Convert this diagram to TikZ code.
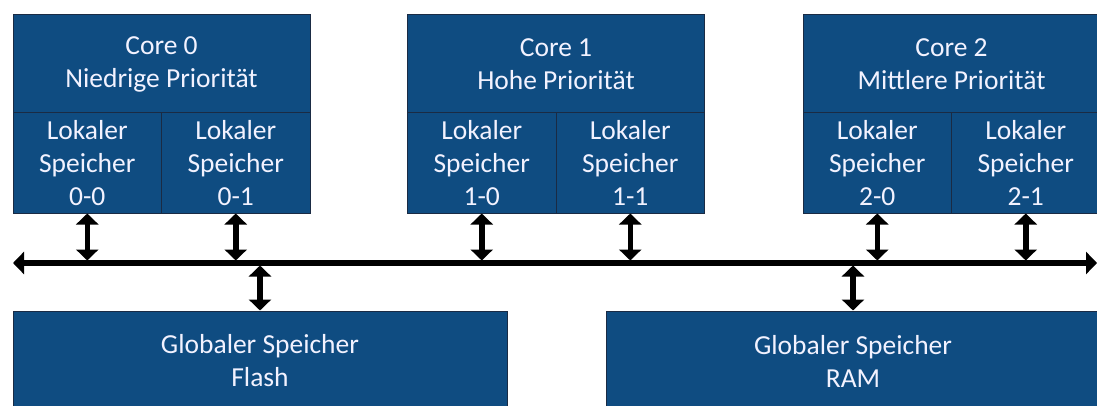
\documentclass[tikz,border=0pt]{standalone}
\usepackage{fontspec}
\setmainfont{Carlito}
\usetikzlibrary{arrows.meta}
\definecolor{boxblue}{HTML}{0F4C81}
\definecolor{boxedge}{HTML}{1A2B44}
\begin{document}
\begin{tikzpicture}[x=1pt,y=-1pt,
  blk/.style={draw=boxedge, line width=1pt, fill=boxblue, text=white!95!blue, align=center,
    inner sep=0pt, font=\fontsize{27.5}{33}\selectfont},
  corebox/.style={blk, minimum width=297pt, minimum height=98pt},
  locbox/.style={blk, minimum width=148.5pt, minimum height=100pt},
  globox/.style={blk, minimum width=494pt, minimum height=100pt},
  link/.style={line width=5.5pt, {Triangle[width=22pt,length=11pt]}-{Triangle[width=22pt,length=11pt]}}
]
\useasboundingbox (0,0) rectangle (1097,406);
\clip (0,0) rectangle (1097,406);

% Core 0
\node[corebox] (c0) at (161.5,64) {Core 0\\Niedrige Priorität};
\node[locbox] (l00) at (87.25,163) {Lokaler\\Speicher\\0-0};
\node[locbox] (l01) at (235.75,163) {Lokaler\\Speicher\\0-1};
% Core 1
\node[corebox] (c1) at (556,64) {Core 1\\Hohe Priorität};
\node[locbox] (l10) at (481.75,163) {Lokaler\\Speicher\\1-0};
\node[locbox] (l11) at (630.25,163) {Lokaler\\Speicher\\1-1};
% Core 2
\node[corebox] (c2) at (951.5,64) {Core 2\\Mittlere Priorität};
\node[locbox] (l20) at (877.25,163) {Lokaler\\Speicher\\2-0};
\node[locbox] (l21) at (1025.75,163) {Lokaler\\Speicher\\2-1};
% Global memories
\node[globox] (flash) at (260,361) {Globaler Speicher\\Flash};
\node[globox] (ram) at (853,361) {Globaler Speicher\\RAM};

% Bus
\coordinate (busL) at (13,263);
\coordinate (busR) at (1097,263);
\coordinate (busT) at (0,260.5);
\coordinate (busB) at (0,265.5);
\draw[link] (busL) -- (busR);

% Connections
\foreach \n in {l00,l01,l10,l11,l20,l21}
  \draw[link] (\n.south) -- (\n.south |- busT);
\draw[link] (flash.north) -- (flash.north |- busB);
\draw[link] (ram.north) -- (ram.north |- busB);
\end{tikzpicture}
\end{document}
